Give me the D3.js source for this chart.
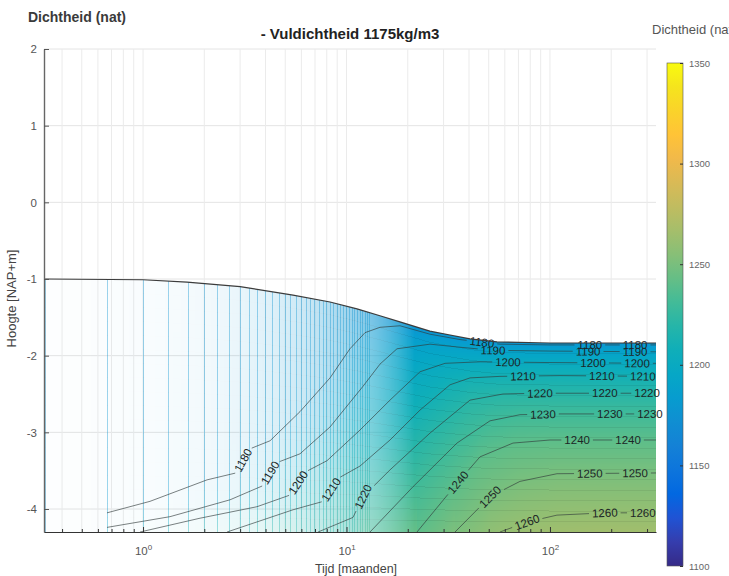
<!DOCTYPE html>
<html>
<head>
<meta charset="utf-8">
<script src="https://cdn.jsdelivr.net/npm/d3@7"></script>
<style>
  html, body { margin: 0; padding: 0; background: #fff; }
  svg { display: block; font-family: "Liberation Sans", Arial, Helvetica, sans-serif; }
</style>
</head>
<body>
<svg id="chart" width="729" height="576"></svg>
<script>
// ---- model data ------------------------------------------------------------
// Density of the placed fill (kg/m3)
const fillDensity = 1175;
// Profiles were computed every 10 days (months)
const timeStep = 1 / 3;
// Number of computational layers in the fill
const layerCount = 18;
// Bottom of the fill (m NAP)
const fillBottom = -4.3;

// Top of the fill over time: [time (months), height (m NAP)]
const surfaceLine = [
  [0.33, -1.00], [1.0, -1.01], [1.645, -1.04], [3.0, -1.10], [5.46, -1.21],
  [8.3, -1.30], [11.26, -1.39], [14.6, -1.48], [18.3, -1.56], [25.7, -1.68],
  [32.3, -1.73], [40.5, -1.78], [54.9, -1.82], [100, -1.835], [332, -1.835]
];

// Density isolines: [time (months), height (m NAP)]
const contourLevels = [1180, 1190, 1200, 1210, 1220, 1230, 1240, 1250, 1260];
const iso1180 = [[0.665,-4.05],[1.082,-3.90],[2.063,-3.62],[2.86,-3.53],[3.32,-3.22],[4.21,-3.11],[5.91,-2.73],[8.30,-2.29],[10.4,-1.91],[12.33,-1.70],[14.61,-1.63],[18.32,-1.61],[25.72,-1.72],[36.12,-1.79],[56.78,-1.85],[100,-1.86],[332,-1.86]];
const iso1190 = [[0.665,-4.24],[1.357,-4.10],[2.676,-3.88],[3.85,-3.70],[4.50,-3.40],[5.91,-3.28],[8.30,-2.93],[12.05,-2.40],[14.61,-2.11],[17.71,-1.91],[25.72,-1.85],[36.12,-1.89],[52.47,-1.93],[100,-1.94],[332,-1.95]];
const iso1200 = [[0.967,-4.30],[1.906,-4.12],[3.633,-3.97],[5.25,-3.82],[6.25,-3.52],[8.02,-3.37],[11.65,-2.97],[16.36,-2.58],[22.97,-2.21],[30.48,-2.10],[45.29,-2.08],[100,-2.09],[332,-2.10]];
const iso1210 = [[2.587,-4.30],[5.459,-4.01],[7.70,-3.90],[9.10,-3.60],[11.65,-3.44],[16.36,-3.10],[22.97,-2.71],[32.26,-2.38],[40.45,-2.29],[56.78,-2.27],[112,-2.26],[332,-2.27]];
const iso1220 = [[7.244,-4.30],[10.76,-4.11],[12.05,-3.84],[16.36,-3.49],[25.72,-3.01],[40.45,-2.58],[58.75,-2.50],[89.3,-2.49],[332,-2.49]];
const iso1230 = [[13.05,-4.30],[21.22,-3.71],[34.91,-3.14],[50.72,-2.85],[71.2,-2.77],[112,-2.76],[332,-2.76]];
const iso1240 = [[22.2,-4.30],[35.31,-3.65],[45.29,-3.32],[65.8,-3.14],[100,-3.10],[332,-3.10]];
const iso1250 = [[34.14,-4.30],[50.72,-3.84],[71.2,-3.64],[108.2,-3.54],[332,-3.53]];
const iso1260 = [[56.78,-4.30],[77.1,-4.17],[108.2,-4.08],[186.3,-4.05],[332,-4.05]];
const isoLines = [iso1180, iso1190, iso1200, iso1210, iso1220, iso1230, iso1240, iso1250, iso1260];

// Times (months) at which each isoline carries its value label
const labelTimes = [
  [3.10, 46.3, 157, 262],
  [4.21, 52.5, 154, 262],
  [5.78, 62.2, 163, 268],
  [8.39, 73.7, 180, 286],
  [12.05, 89.3, 186, 300],
  [92.4, 197, 310],
  [35.3, 136, 242],
  [50.7, 157, 262],
  [77.1, 186, 286]
];

// Axis ticks
const yTicks = [-4, -3, -2, -1, 0, 1, 2];
const xMajorTicks = [1, 10, 100];
const xMinorTicks = [0.4,0.5,0.6,0.7,0.8,0.9, 2,3,4,5,6,7,8,9, 20,30,40,50,60,70,80,90, 200,300];
const colorTicks = [1100, 1150, 1200, 1250, 1300, 1350];

// parula colour map (evenly spaced stops)
const parulaStops = [
  [0.2081,0.1663,0.5292],[0.2081,0.2386,0.6771],[0.1253,0.3242,0.8303],[0.0060,0.4086,0.8828],
  [0.0498,0.4586,0.8641],[0.0779,0.5040,0.8384],[0.0641,0.5570,0.8240],[0.0265,0.6137,0.8135],
  [0.0228,0.6535,0.7768],[0.0590,0.6838,0.7254],[0.1453,0.7098,0.6646],[0.2586,0.7317,0.5954],
  [0.3953,0.7459,0.5244],[0.5300,0.7491,0.4661],[0.6473,0.7456,0.4188],[0.7525,0.7384,0.3768],
  [0.8507,0.7299,0.3360],[0.9450,0.7261,0.2886],[0.9990,0.7653,0.2164],[0.9789,0.8271,0.1633],
  [0.9589,0.8949,0.1132],[0.9763,0.9831,0.0538]
];
function parula(f) {
  f = Math.max(0, Math.min(1, f));
  const n = parulaStops.length - 1, p = f * n;
  const i = Math.min(n - 1, Math.floor(p)), u = p - i;
  const a = parulaStops[i], b = parulaStops[i + 1];
  return [0, 1, 2].map(k => (a[k] + (b[k] - a[k]) * u) * 255);
}

// ---- layout ----------------------------------------------------------------
const pL = 44, pR = 656, pT = 49, pB = 532;
const x = d3.scaleLog().domain([0.326, 332]).range([pL, pR]);
const y = d3.scaleLinear().domain([-4.3, 2]).range([pB, pT]);
const cDomain = [1100, 1350];
const cy = d3.scaleLinear().domain(cDomain).range([566, 63]);

const svg = d3.select('#chart');
const font = '"Liberation Sans", Arial, Helvetica, sans-serif';

// interpolate a [t, h] polyline in log-time; null outside its time span
function valueAt(line, t, clamp) {
  const lt = Math.log(t);
  const n = line.length;
  if (lt < Math.log(line[0][0]) - 1e-9) return clamp ? line[0][1] : null;
  if (lt > Math.log(line[n - 1][0]) + 1e-9) return clamp ? line[n - 1][1] : null;
  for (let i = 0; i < n - 1; i++) {
    const a = Math.log(line[i][0]), b = Math.log(line[i + 1][0]);
    if (lt <= b + 1e-9) {
      const u = b === a ? 0 : Math.max(0, Math.min(1, (lt - a) / (b - a)));
      return line[i][1] + u * (line[i + 1][1] - line[i][1]);
    }
  }
  return line[n - 1][1];
}

// density profile of one column
function profileAt(t) {
  const surf = valueAt(surfaceLine, t, true);
  const pts = [];
  isoLines.forEach((line, k) => {
    const h = valueAt(line, t, false);
    if (h !== null) pts.push([h, contourLevels[k]]);
  });
  pts.sort((a, b) => b[1] - a[1]);
  for (let i = 1; i < pts.length; i++) if (pts[i][0] <= pts[i - 1][0]) pts[i][0] = pts[i - 1][0] + 1e-3;
  if (!pts.length || surf > pts[pts.length - 1][0]) pts.push([surf, fillDensity]);
  return {
    surf,
    at(h) {
      if (pts.length === 1) return pts[0][1];
      if (h <= pts[0][0]) {
        const s = (pts[1][1] - pts[0][1]) / (pts[1][0] - pts[0][0]);
        return Math.min(pts[0][1] + 15, pts[0][1] + s * (h - pts[0][0]));
      }
      for (let i = 0; i < pts.length - 1; i++) {
        if (h <= pts[i + 1][0]) {
          const u = (h - pts[i][0]) / (pts[i + 1][0] - pts[i][0]);
          return pts[i][1] + u * (pts[i + 1][1] - pts[i][1]);
        }
      }
      return pts[pts.length - 1][1];
    }
  };
}

// ---- grid ------------------------------------------------------------------
const gGrid = svg.append('g');
gGrid.selectAll('line.hy').data(yTicks).join('line')
  .attr('x1', pL).attr('x2', pR).attr('y1', d => y(d)).attr('y2', d => y(d))
  .attr('stroke', '#e4e4e4').attr('stroke-width', 1);
gGrid.selectAll('line.vx').data(xMajorTicks.concat(xMinorTicks)).join('line')
  .attr('x1', d => x(d)).attr('x2', d => x(d)).attr('y1', pT).attr('y2', pB)
  .attr('stroke', '#ebebeb').attr('stroke-width', 1);

// ---- density field ---------------------------------------------------------
const W = pR - pL, H = pB - pT;
const canvas = document.createElement('canvas');
canvas.width = W; canvas.height = H;
const ctx = canvas.getContext('2d');
const img = ctx.createImageData(W, H);
const tLast = x.domain()[1];
for (let i = 0; i < W; i++) {
  const tA = x.invert(pL + i), tB = x.invert(pL + i + 1);
  const t = x.invert(pL + i + 0.5);
  const prof = profileAt(t);
  // profile columns blend together where they are drawn closer than a pixel
  const spacing = x(t + timeStep) - x(t);
  let a = Math.min(1, Math.pow(1.35 / spacing, 1.25));
  const k = Math.ceil(tA / timeStep - 1e-9);
  if (spacing > 2.2 && k >= 1 && k * timeStep < tB && k * timeStep <= tLast) a = 1 - (1 - a) * (1 - 0.4);
  const colH = prof.surf - fillBottom;
  const pxPerLayer = (y(fillBottom) - y(prof.surf)) / layerCount;
  for (let j = 0; j < H; j++) {
    const h = y.invert(pT + j + 0.5);
    if (h > prof.surf) continue;
    const v = prof.at(h);
    let c = parula((v - cDomain[0]) / (cDomain[1] - cDomain[0]));
    const f = (h - fillBottom) / colH * layerCount;
    const d = Math.abs(f - Math.round(f)) * pxPerLayer;
    if (d < 0.5 && f > 0.5) c = c.map(q => q * 0.93);
    const idx = (j * W + i) * 4;
    img.data[idx] = c[0]; img.data[idx + 1] = c[1]; img.data[idx + 2] = c[2];
    img.data[idx + 3] = Math.round(a * 255);
  }
}
ctx.putImageData(img, 0, 0);
svg.append('image').attr('x', pL).attr('y', pT).attr('width', W).attr('height', H)
  .attr('preserveAspectRatio', 'none').attr('href', canvas.toDataURL());

// ---- isolines with inline labels ---------------------------------------------
const gIso = svg.append('g');
const lineGen = d3.line();
isoLines.forEach((line, k) => {
  const pts = line.map(([t, h]) => [x(t), y(h)]);
  const cum = [0];
  for (let i = 1; i < pts.length; i++) cum.push(cum[i - 1] + Math.hypot(pts[i][0] - pts[i - 1][0], pts[i][1] - pts[i - 1][1]));
  const total = cum[cum.length - 1];
  const pointAt = s => {
    s = Math.max(0, Math.min(total, s));
    let i = 0;
    while (i < pts.length - 2 && cum[i + 1] < s) i++;
    const seg = cum[i + 1] - cum[i];
    const u = seg ? (s - cum[i]) / seg : 0;
    return [pts[i][0] + u * (pts[i + 1][0] - pts[i][0]), pts[i][1] + u * (pts[i + 1][1] - pts[i][1])];
  };
  const gaps = [];
  labelTimes[k].forEach(tl => {
    const xl = x(tl);
    let i = 0;
    while (i < pts.length - 2 && pts[i + 1][0] < xl) i++;
    const dx = pts[i + 1][0] - pts[i][0], dy = pts[i + 1][1] - pts[i][1];
    const u = dx ? Math.max(0, Math.min(1, (xl - pts[i][0]) / dx)) : 0;
    const px = pts[i][0] + u * dx, py = pts[i][1] + u * dy;
    const s0 = cum[i] + u * (cum[i + 1] - cum[i]);
    let ang = Math.atan2(dy, dx) * 180 / Math.PI;
    if (ang > 90) ang -= 180;
    if (ang < -90) ang += 180;
    const txt = gIso.append('text')
      .attr('transform', `translate(${px},${py}) rotate(${ang})`)
      .attr('text-anchor', 'middle').attr('dy', '0.36em')
      .attr('font-size', 11.5).attr('fill', '#1c2626')
      .text(contourLevels[k]);
    const w = txt.node().getComputedTextLength();
    gaps.push([s0 - w / 2 - 3, s0 + w / 2 + 3]);
  });
  gaps.sort((a, b) => a[0] - b[0]);
  const keep = [];
  let s = 0;
  gaps.forEach(([g0, g1]) => { if (g0 > s) keep.push([s, g0]); s = Math.max(s, g1); });
  if (s < total) keep.push([s, total]);
  keep.forEach(([s0, s1]) => {
    const seg = [pointAt(s0)];
    for (let i = 0; i < pts.length; i++) if (cum[i] > s0 && cum[i] < s1) seg.push(pts[i]);
    seg.push(pointAt(s1));
    gIso.insert('path', 'text').attr('d', lineGen(seg)).attr('fill', 'none')
      .attr('stroke', '#2f3838').attr('stroke-width', 0.8).attr('stroke-opacity', 0.8);
  });
});

// top of the fill
svg.append('path')
  .attr('d', d3.line().x(d => x(d[0])).y(d => y(d[1]))(surfaceLine))
  .attr('fill', 'none').attr('stroke', '#3c3c3c').attr('stroke-width', 1.2);

// ---- axes --------------------------------------------------------------------
const yAxis = svg.append('g').attr('transform', `translate(${pL},0)`)
  .call(d3.axisLeft(y).tickValues(yTicks).tickSizeInner(-5).tickSizeOuter(0).tickPadding(7).tickFormat(d => String(d)));
yAxis.select('.domain').attr('stroke', '#666').attr('stroke-width', 1.4);
yAxis.selectAll('.tick line').attr('stroke', '#555');
yAxis.selectAll('.tick text').attr('font-family', font).attr('font-size', 11.5).attr('fill', '#555');

const xAxis = svg.append('g').attr('transform', `translate(0,${pB})`)
  .call(d3.axisBottom(x).tickValues(xMajorTicks).tickSizeInner(-5).tickSizeOuter(0).tickFormat(() => ''));
xAxis.select('.domain').attr('stroke', '#333').attr('stroke-width', 1.2);
xAxis.selectAll('.tick line').attr('stroke', '#333');
xAxis.selectAll('.tick text').each(function (d) {
  const el = d3.select(this).attr('font-family', font).attr('font-size', 11.5).attr('fill', '#555').attr('y', 15);
  el.append('tspan').text('10');
  el.append('tspan').attr('font-size', 8).attr('dy', -5).text(Math.round(Math.log10(d)));
});
svg.append('g').attr('transform', `translate(0,${pB})`)
  .call(d3.axisBottom(x).tickValues(xMinorTicks).tickSizeInner(-3).tickSizeOuter(0).tickFormat(() => ''))
  .call(g => g.select('.domain').remove())
  .selectAll('.tick line').attr('stroke', '#333');

// ---- titles ------------------------------------------------------------------
svg.append('text').attr('x', 28).attr('y', 22).attr('font-size', 14).attr('font-weight', 'bold')
  .attr('fill', '#3a3a3a').text('Dichtheid (nat)');
svg.append('text').attr('x', (pL + pR) / 2).attr('y', 39).attr('text-anchor', 'middle')
  .attr('font-size', 15).attr('font-weight', 'bold').attr('fill', '#222').text('- Vuldichtheid 1175kg/m3');
svg.append('text').attr('x', (pL + pR) / 2 + 6).attr('y', 573).attr('text-anchor', 'middle')
  .attr('font-size', 12.5).attr('fill', '#444').text('Tijd [maanden]');
svg.append('text').attr('transform', `translate(16,${(pT + pB) / 2 + 8}) rotate(-90)`)
  .attr('text-anchor', 'middle').attr('font-size', 13).attr('fill', '#444').text('Hoogte [NAP+m]');

// ---- colour bar --------------------------------------------------------------
const grad = svg.append('defs').append('linearGradient').attr('id', 'parula')
  .attr('x1', 0).attr('y1', 1).attr('x2', 0).attr('y2', 0);
grad.selectAll('stop').data(parulaStops).join('stop')
  .attr('offset', (d, i) => i / (parulaStops.length - 1))
  .attr('stop-color', d => d3.rgb(d[0] * 255, d[1] * 255, d[2] * 255));
const cbX = 667, cbW = 16;
svg.append('rect').attr('x', cbX).attr('y', cy(cDomain[1])).attr('width', cbW)
  .attr('height', cy(cDomain[0]) - cy(cDomain[1])).attr('fill', 'url(#parula)')
  .attr('stroke', '#555').attr('stroke-width', 0.6);
const cAxis = svg.append('g').attr('transform', `translate(${cbX + cbW},0)`)
  .call(d3.axisRight(cy).tickValues(colorTicks).tickSizeInner(-3).tickSizeOuter(0).tickPadding(6).tickFormat(d => String(d)));
cAxis.select('.domain').remove();
cAxis.selectAll('.tick line').attr('stroke', '#333');
cAxis.selectAll('.tick text').attr('font-family', font).attr('font-size', 9.5).attr('fill', '#666');
// colour bar title runs off the right edge of the figure
svg.append('text').attr('x', 652).attr('y', 34).attr('font-size', 13).attr('fill', '#555').text('Dichtheid (nat)');
</script>
</body>
</html>
